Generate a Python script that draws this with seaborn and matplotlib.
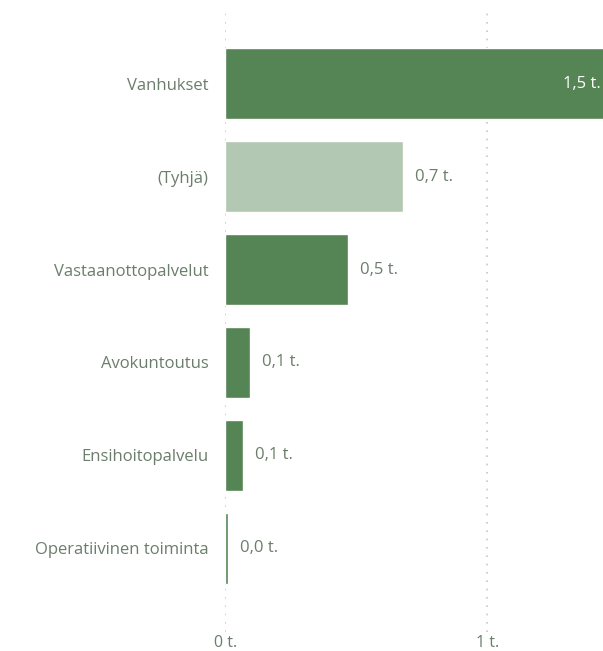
import matplotlib
matplotlib.use("Agg")
import matplotlib.pyplot as plt
import seaborn as sns
import pandas as pd

categories = ["Vanhukset", "(Tyhjä)", "Vastaanottopalvelut", "Avokuntoutus",
              "Ensihoitopalvelu", "Operatiivinen toiminta"]
values = [1.48, 0.68, 0.47, 0.095, 0.068, 0.011]
value_labels = ["1,5 t.", "0,7 t.", "0,5 t.", "0,1 t.", "0,1 t.", "0,0 t."]
tick_values = [0, 1]
tick_labels = ["0 t.", "1 t."]

dark = "#558455"
light = "#b2c8b2"
colors = [dark, light, dark, dark, dark, dark]
text_color = "#6b7d6b"

sns.set_theme(style="white")
plt.rcParams["font.family"] = ["Open Sans", "DejaVu Sans"]

df = pd.DataFrame({"cat": categories, "val": values})

fig = plt.figure(figsize=(6.03, 6.51), dpi=100)
ax = fig.add_axes([225.3 / 603, (651 - 632) / 651, (603 - 225.3) / 603, (632 - 13) / 651])

sns.barplot(data=df, x="val", y="cat", hue="cat", palette=colors, legend=False,
            orient="h", width=0.77, ax=ax, saturation=1, zorder=3)

xmax = (603 - 225.3) / 262
ax.set_xlim(0, xmax)
ax.set_ylim(5.9, -0.76)

for x in tick_values:
    ax.axvline(x, color="#c8c8c8", linestyle=(0, (1, 4)), linewidth=1.2, zorder=1)

fs = 12
ax.set_xticks(tick_values)
ax.set_xticklabels(tick_labels, color=text_color, fontsize=fs - 0.5)
ax.tick_params(axis="x", length=0, pad=2.5)
ax.tick_params(axis="y", length=0, pad=12, labelsize=fs, labelcolor=text_color)
ax.set_xlabel("")
ax.set_ylabel("")
for s in ax.spines.values():
    s.set_visible(False)

for i, (v, lab) in enumerate(zip(values, value_labels)):
    if v > xmax * 0.9:
        ax.text(xmax - 0.01, i, lab, ha="right", va="center", color="white",
                fontsize=fs, zorder=5)
    else:
        ax.text(v + 0.045, i, lab, ha="left", va="center", color=text_color,
                fontsize=fs, zorder=5)

fig.savefig("out.png", dpi=100, facecolor="white")
